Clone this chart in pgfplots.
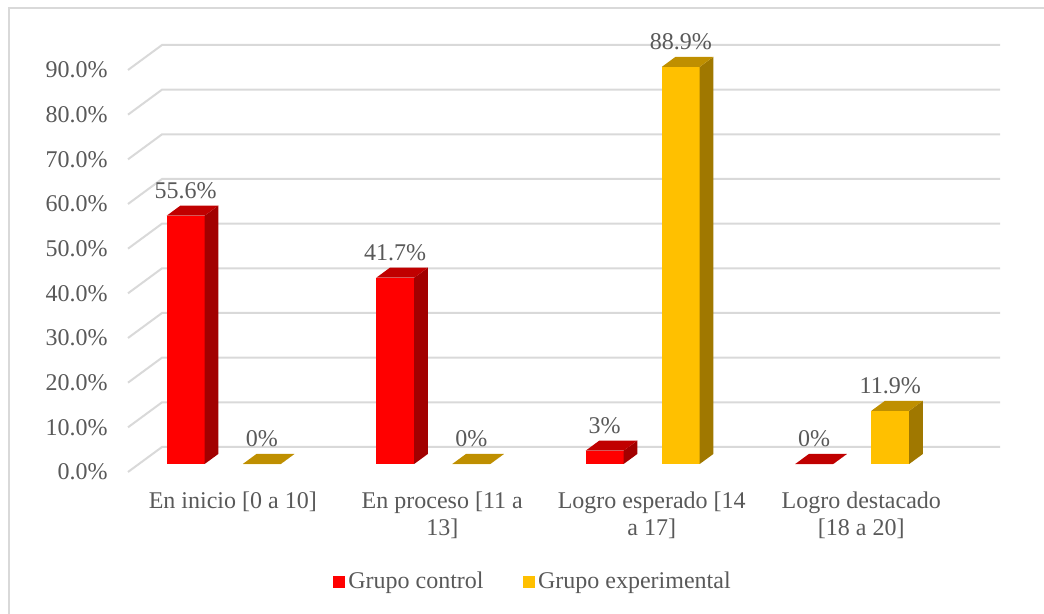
\documentclass[border=0pt]{standalone}
\usepackage{pgfplots}
\usepackage{pgfplotstable}
\pgfplotsset{compat=1.18}
\usepackage{fontspec}
\setmainfont{Liberation Serif}
\definecolor{txt}{HTML}{595959}
\definecolor{gridc}{HTML}{D9D9D9}
\definecolor{rfront}{HTML}{FF0000}
\definecolor{rside}{HTML}{A20000}
\definecolor{rtop}{HTML}{C00000}
\definecolor{yfront}{HTML}{FFC000}
\definecolor{yside}{HTML}{A07800}
\definecolor{ytop}{HTML}{BF8F00}

\pgfplotstableread{
cat ctrl exp
0 55.6 0
1 41.7 0
2 3 88.9
3 0 11.9
}\datatable

% one 3-D bar: #1 left edge (front plane), #2 value, #3 front, #4 side, #5 top colour
\newcommand\drawbar[5]{%
  \pgfmathsetmacro\xa{#1+0.0519}%
  \pgfmathsetmacro\xb{#1+0.0519+0.181}%
  \pgfmathsetmacro\xc{#1+0.1169+0.181}%
  \pgfmathsetmacro\xd{#1+0.1169}%
  \pgfmathsetmacro\ya{1.791}%
  \pgfmathsetmacro\yb{#2+1.791}%
  \pgfmathsetmacro\yc{4.030}%
  \pgfmathsetmacro\yd{#2+4.030}%
  \edef\tmp{%
    \noexpand\addplot[fill=#3, draw=none, forget plot] coordinates {(\xa,\ya) (\xb,\ya) (\xb,\yb) (\xa,\yb)};%
    \noexpand\addplot[fill=#4, draw=none, forget plot] coordinates {(\xb,\ya) (\xc,\yc) (\xc,\yd) (\xb,\yb)};%
    \noexpand\addplot[fill=#5, draw=none, forget plot] coordinates {(\xa,\yb) (\xb,\yb) (\xc,\yd) (\xd,\yd)};%
  }\tmp
}
\newcommand\drawgrid[1]{%
  \pgfmathsetmacro\ga{#1+5.597}%
  \edef\tmp{%
    \noexpand\addplot[gridc, line width=1pt, forget plot] coordinates {(0,#1) (0.1623,\ga) (4.1623,\ga)};%
  }\tmp
}

\begin{document}
\begin{tikzpicture}[x=1pt,y=1pt]
\useasboundingbox (0,0) rectangle (522,307);
\draw[gridc, line width=1pt] (4.25,0) -- (4.25,302.75) -- (522,302.75);
\begin{axis}[
  at={(64pt,71pt)}, anchor=south west,
  x=104.75pt, y=2.2333pt,
  xmin=0, xmax=4, ymin=0, ymax=90,
  clip=false,
  axis line style={draw=none},
  major tick length=0pt,
  ytick={0,10,...,90},
  /pgf/number format/assume math mode=true,
  yticklabel={\pgfmathprintnumber[fixed,fixed zerofill,precision=1]{\tick}\%},
  yticklabel style={anchor=east, inner sep=0pt, xshift=-10pt},
  xtick={0.5,1.5,2.5,3.5},
  xticklabels={{En inicio [0 a 10]},{En proceso [11 a\\13]},{Logro esperado [14\\a 17]},{Logro destacado\\{[}18 a 20]}},
  xticklabel style={anchor=north, align=center, inner sep=0pt, yshift=-9.5pt},
  tick label style={font=\fontsize{12}{13.8}\selectfont, text=txt},
  legend columns=2,
  legend style={at={(0.4839,-0.2736)}, anchor=center, draw=none, fill=none,
    font=\fontsize{12}{13.8}\selectfont, text=txt, nodes={inner sep=1.6pt},
    /tikz/every even column/.append style={column sep=18pt}},
  legend image code/.code={\fill[#1] (0pt,-3pt) rectangle (6pt,3pt);},
  lbl/.style={draw=none, mark=none, forget plot, point meta=explicit,
    nodes near coords={\pgfmathprintnumber{\pgfplotspointmeta}\%},
    nodes near coords style={anchor=base, inner sep=0pt, yshift=8.5pt,
      font=\fontsize{12}{13.8}\selectfont, text=txt}},
]
\addlegendimage{fill=rfront, draw=none}
\addlegendentry{Grupo control}
\addlegendimage{fill=yfront, draw=none}
\addlegendentry{Grupo experimental}

\pgfplotsforeachungrouped \t in {0,10,...,90}{\drawgrid{\t}}

\pgfplotsforeachungrouped \i in {0,...,3}{%
  \pgfplotstablegetelem{\i}{ctrl}\of\datatable \let\vc\pgfplotsretval
  \pgfplotstablegetelem{\i}{exp}\of\datatable \let\ve\pgfplotsretval
  \drawbar{\i+0.5-0.367}{\vc}{rfront}{rside}{rtop}%
  \drawbar{\i+0.5-0.004}{\ve}{yfront}{yside}{ytop}%
}

\addplot[lbl] table[x expr=\thisrow{cat}+0.5-0.2246, y expr=\thisrow{ctrl}+1.791, meta=ctrl]{\datatable};
\addplot[lbl] table[x expr=\thisrow{cat}+0.5+0.1384, y expr=\thisrow{exp}+1.791, meta=exp]{\datatable};
\end{axis}
\end{tikzpicture}
\end{document}
